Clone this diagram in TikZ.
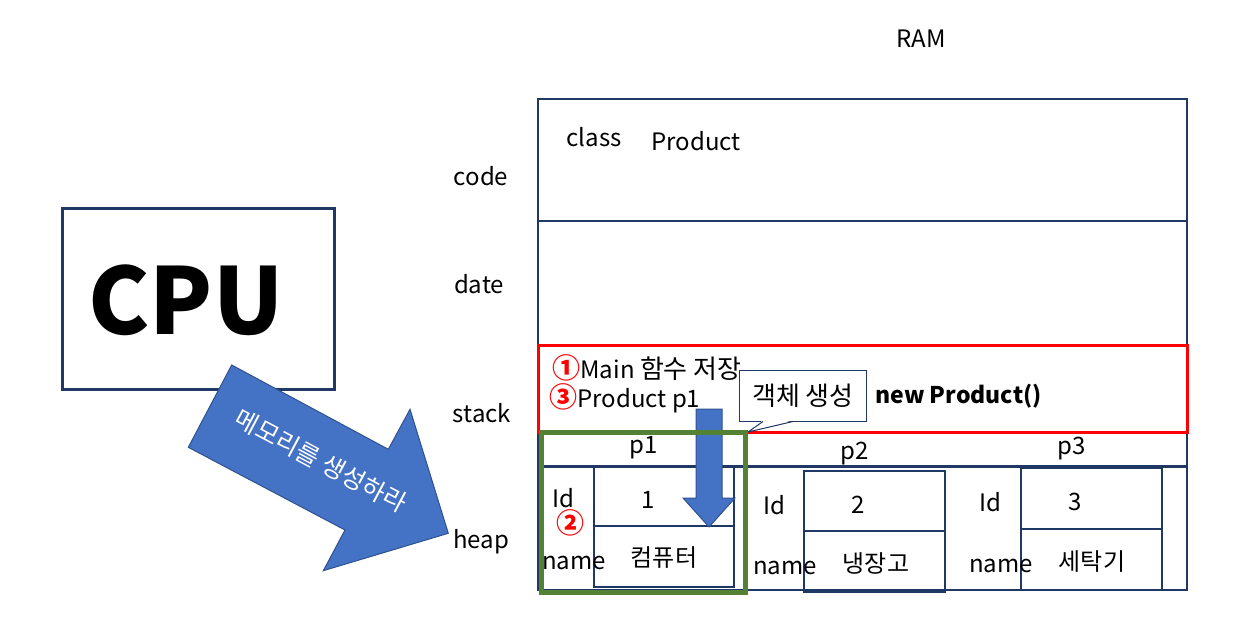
\documentclass[tikz,border=0pt]{standalone}
\usepackage{fontspec}
\setmainfont{Noto Sans CJK KR}
\usetikzlibrary{positioning}

\definecolor{navy}{HTML}{203864}
\definecolor{fillblue}{HTML}{4472C4}
\definecolor{edgeblue}{HTML}{2F528F}
\definecolor{framegreen}{HTML}{548235}

\newcommand{\stepmark}[1]{\textcolor{red}{\fontsize{14}{14}\selectfont\bfseries #1}}

\tikzset{
  lbl/.style={inner sep=0pt, font=\fontsize{12}{14}\selectfont},
  segment/.style={draw=navy, line width=1pt, minimum width=324.5pt},
  cell/.style={draw=navy, line width=0.6pt},
  bigarrow/.style={fill=fillblue, draw=edgeblue, line width=0.5pt},
}

\begin{document}
\begin{tikzpicture}[x=0.5pt, y=-0.5pt]
  \useasboundingbox (0,0) rectangle (1235,625);

  % CPU
  \node[draw=navy, line width=1.5pt, minimum width=136pt, minimum height=90pt] (cpu) at (198,299) {};
  \node[inner sep=0pt, font=\fontsize{46}{48}\selectfont\bfseries] (cpu_t) at (186,300) {CPU};

  \path[bigarrow] (231.7,365) -- (388.3,449.3) -- (410,409.3) -- (448.3,533.3)
    -- (323.3,570.7) -- (345,530) -- (188.3,447.3) -- cycle;
  \node[lbl, text=white, rotate=-28, font=\fontsize{12.5}{14}\selectfont] (order) at (321,461) {메모리를 생성하라};

  % RAM
  \node[lbl] (ram) at (921,39) {RAM};
  \node[segment, minimum height=61pt] (code_seg) at (862.5,160) {};
  \node[segment, minimum height=62pt] (data_seg) at (862.5,283) {};
  \node[segment, minimum height=61pt] (stack_seg) at (862.5,406) {};
  \node[segment, minimum height=61.5pt] (heap_seg) at (862.5,528.5) {};
  \draw[navy, line width=1.5pt] (heap_seg.north west) -- (heap_seg.north east);

  \node[lbl] (code) at (481,176) {code};
  \node[lbl] (date) at (479,284) {date};
  \node[lbl] (stack) at (482,413) {stack};
  \node[lbl] (heap) at (481,542) {heap};

  \node[lbl] (class) at (594,137) {class};
  \node[lbl] (class_name) at (696,141) {Product};

  % stack
  \node[draw=red, line width=1.5pt, minimum width=324.5pt, minimum height=43.5pt] (stack_frame) at (862.5,388.5) {};
  \node[lbl, anchor=west] (main_line) at (552,368) {\stepmark{①}Main {\fontsize{13}{14}\selectfont 함수 저장}};
  \node[lbl, anchor=west] (decl_line) at (549,398) {\stepmark{③}Product p1};
  \node[lbl, anchor=west, font=\fontsize{11.5}{14}\selectfont\bfseries] (new_obj) at (875,396) {new Product()};

  \node[lbl, draw=navy, line width=0.5pt, fill=white, minimum width=63.5pt, minimum height=25.5pt,
    font=\fontsize{13}{14}\selectfont] (callout) at (803,395.5) {객체 생성};
  \coordinate (tip) at (748,432);
  \fill[white] ([xshift=12pt, yshift=0.6pt]callout.south west) -- (tip) -- ([xshift=27pt, yshift=0.6pt]callout.south west) -- cycle;
  \draw[navy, line width=0.5pt] ([xshift=12pt]callout.south west) -- (tip) -- ([xshift=27pt]callout.south west);

  % heap
  \node[lbl] (p1) at (644,448) {p1};
  \node[lbl] (p2) at (855,454) {p2};
  \node[lbl] (p3) at (1072,449) {p3};

  \draw[cell] (594,466) rectangle (734,587) (594,526) -- (734,526);
  \draw[cell] (804,471) rectangle (945,592) (804,531) -- (945,531);
  \draw[cell] (1021,468) rectangle (1162,590) (1021,529) -- (1162,529);

  \node[lbl] (id_1) at (563,498) {Id};
  \node[lbl] (step_2) at (570,523) {\stepmark{②}};
  \node[lbl] (name_1) at (574,563) {name};
  \node[lbl] (val_1) at (648,500) {1};
  \node[lbl] (str_1) at (664,558) {컴퓨터};

  \node[lbl] (id_2) at (774,505) {Id};
  \node[lbl] (name_2) at (785,568) {name};
  \node[lbl] (val_2) at (858,505) {2};
  \node[lbl] (str_2) at (876,563) {냉장고};

  \node[lbl] (id_3) at (990,502) {Id};
  \node[lbl] (name_3) at (1001,566) {name};
  \node[lbl] (val_3) at (1075,502) {3};
  \node[lbl] (str_3) at (1092,562) {세탁기};

  \path[bigarrow] (696,409) -- (722,409) -- (722,498) -- (735,498) -- (709,527)
    -- (683,498) -- (696,498) -- cycle;

  \node[draw=framegreen, line width=2.5pt, minimum width=102pt, minimum height=80pt] (p1_frame) at (643,512) {};
\end{tikzpicture}
\end{document}
